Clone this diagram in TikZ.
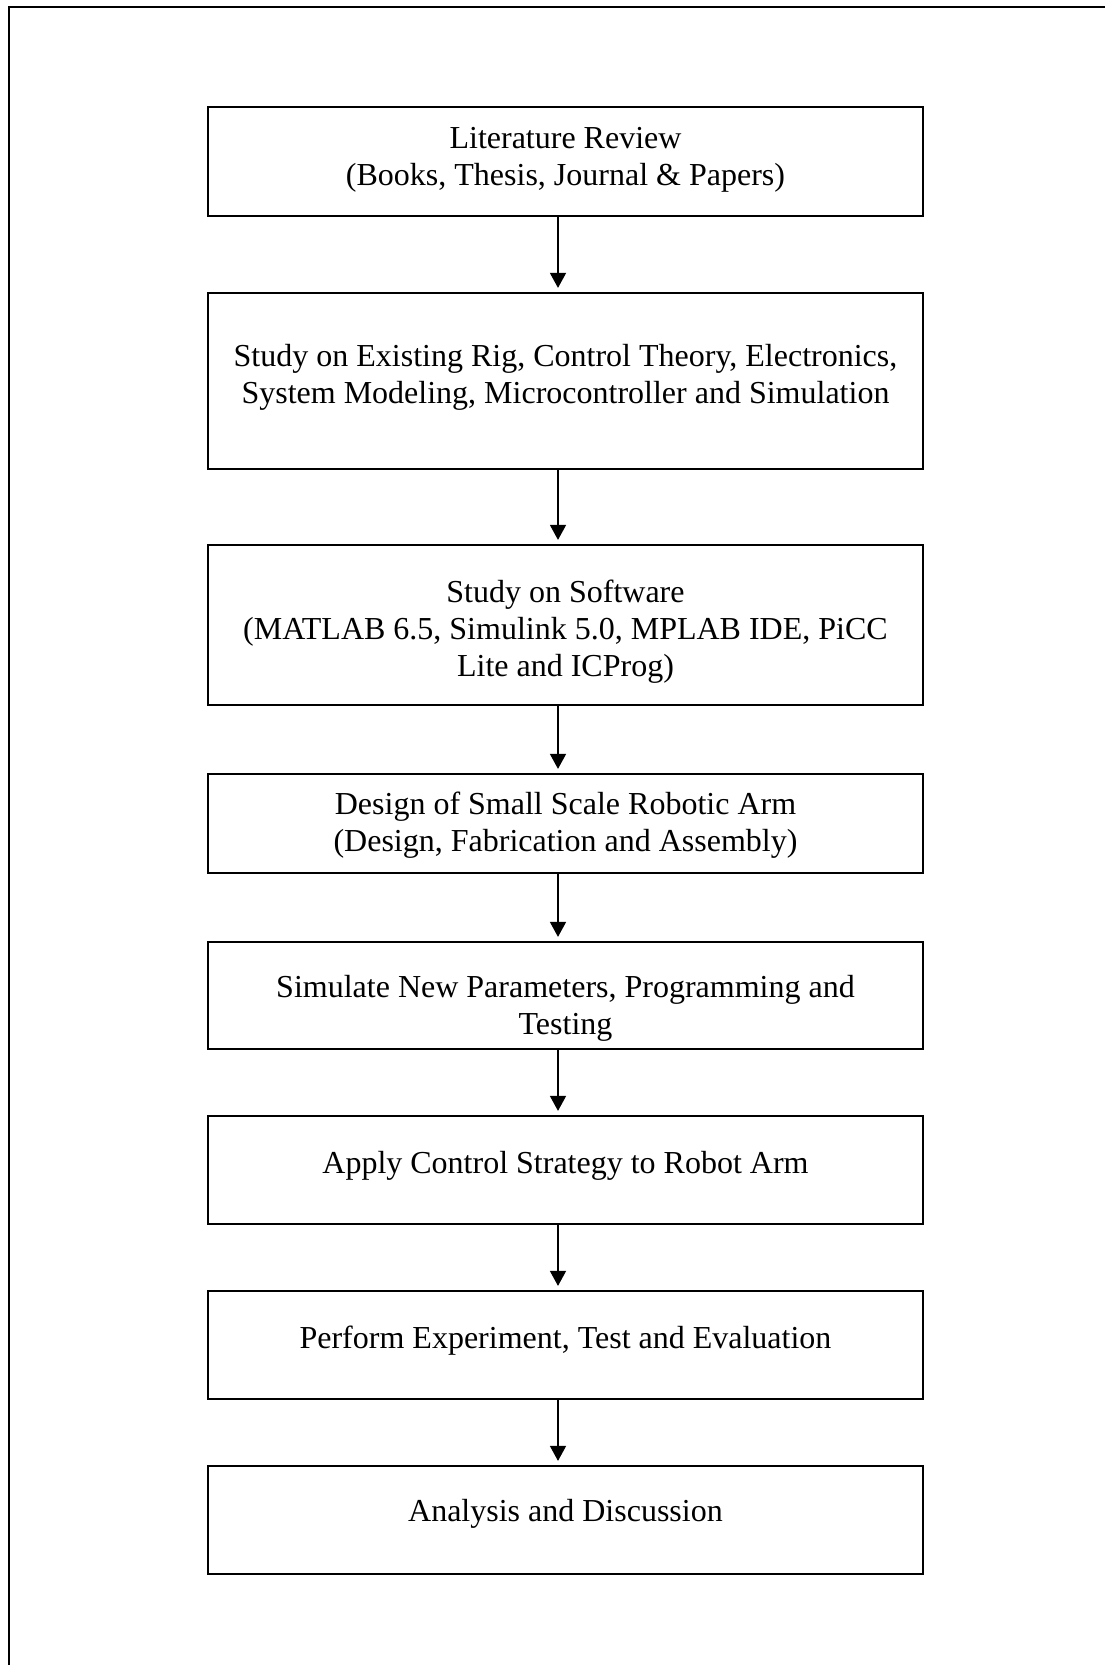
\documentclass[tikz,border=0pt]{standalone}
\usepackage{fontspec}
\setmainfont{Liberation Serif}
\usetikzlibrary{arrows.meta}

\begin{document}
\begin{tikzpicture}[x=1pt, y=-1pt,
    stepbox/.style={draw, line width=2.2pt, minimum width=715pt, inner sep=0pt},
    steptext/.style={align=center, font=\fontsize{32}{36.8}\selectfont, inner sep=0pt},
    flow/.style={-{Triangle[width=16pt, length=15pt]}, line width=1.5pt, shorten >=4pt}]

    % Page and frame (right and bottom edge cut off)
    \useasboundingbox (0,0) rectangle (1105,1665);
    \draw[line width=2.4pt] (9,1665) -- (9,7) -- (1105,7);

    % Column of the arrows
    \coordinate (axis) at (558,0);

    % Steps: name / centre y / height / text raise / text
    \foreach \n/\y/\h/\s/\t in {
        s1/161.5/109/1.5/{Literature Review\\(Books, Thesis, Journal \& Papers)},
        s2/381/176/3.5/{Study on Existing Rig, Control Theory, Electronics,\\System Modeling, Microcontroller and Simulation},
        s3/625/160/-6.5/{Study on Software\\(MATLAB 6.5, Simulink 5.0, MPLAB IDE, PiCC\\Lite and ICProg)},
        s4/823.5/99/-2/{Design of Small Scale Robotic Arm\\(Design, Fabrication and Assembly)},
        s5/995.5/107/-13/{Simulate New Parameters, Programming and\\Testing},
        s6/1170/108/4.5/{Apply Control Strategy to Robot Arm},
        s7/1345/108/4.5/{Perform Experiment, Test and Evaluation},
        s8/1520/108/6/{Analysis and Discussion}}{
        \node[stepbox, minimum height=\h pt] (\n) at (565.5,\y) {};
        \node[steptext] (\n t) at ([yshift=\s pt]\n.center) {\t};
    }

    % Arrows
    \foreach \a/\b in {s1/s2, s2/s3, s3/s4, s4/s5, s5/s6, s6/s7, s7/s8}{
        \draw[flow] (\a.south -| axis) -- (\b.north -| axis);
    }

\end{tikzpicture}
\end{document}
